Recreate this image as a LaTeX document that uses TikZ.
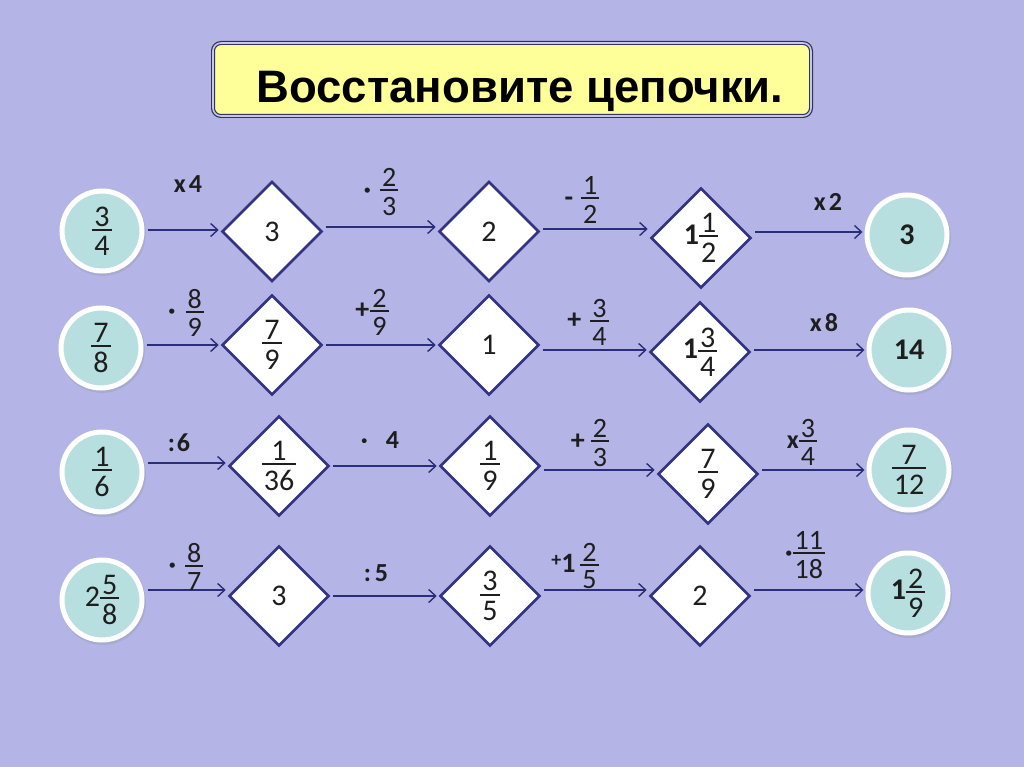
\documentclass[tikz,border=0pt]{standalone}
\usepackage{fontspec}
\setmainfont{Carlito}
\newfontfamily\titlefont{Liberation Sans}
\usetikzlibrary{arrows.meta,shapes.geometric,shadows}
\definecolor{bgc}{HTML}{B4B5E6}
\definecolor{circfill}{HTML}{B8DFDF}
\definecolor{diaborder}{HTML}{333383}
\definecolor{arrc}{HTML}{2A2E7A}
\definecolor{titlefill}{HTML}{FFFF99}
\definecolor{titleborder}{HTML}{2E3166}
\definecolor{titlemid}{HTML}{C8C9E0}
\definecolor{txt}{HTML}{1E1E1E}
\newcommand\fr[2]{\ensuremath{\vcenter{\offinterlineskip\halign{\hfil\kern2pt##\kern2pt\hfil\cr #1\cr\noalign{\kern2.5pt\hrule height 2pt\kern5.5pt}#2\cr}}}}
\newcommand\nfont{\fontsize{30}{33}\selectfont}
\newcommand\lfont{\fontsize{28}{32}\selectfont}
\newcommand\opfont{\fontsize{26}{30}\selectfont\bfseries}
\newcommand\conn[3]{\draw[arr] ([yshift=#3pt]#1.east) -- ([yshift=#3pt]#1.east -| #2.west);}
\begin{document}
\begin{tikzpicture}[x=1pt,y=-1pt,
  titlebox/.style={draw=titleborder, line width=1.2pt, double=titlemid, double distance=1.6pt,
    fill=titlefill, rounded corners=8pt, minimum width=598pt, minimum height=73pt, inner sep=0pt},
  titletext/.style={font=\titlefont\bfseries\fontsize{45.5}{50}\selectfont, text=black, inner sep=0pt},
  circ/.style={circle, fill=circfill, draw=white, line width=5pt, minimum size=80pt, inner sep=0pt,
    font=\nfont, text=txt, drop shadow={shadow xshift=1pt, shadow yshift=-2pt, shadow scale=1.07, opacity=0.2}},
  dia/.style={diamond, aspect=1, fill=white, draw=diaborder, line width=2.6pt, minimum width=100pt,
    minimum height=100pt, inner sep=0pt, font=\nfont, text=txt},
  lab/.style={font=\lfont, text=txt, inner sep=0pt},
  oplab/.style={font=\opfont, text=txt, inner sep=0pt},
  arr/.style={draw=arrc, line width=1.4pt, -{Straight Barb[length=7pt,width=13pt,line width=1.4pt]},
    shorten <=3pt, shorten >=2pt}]
\useasboundingbox (0,0) rectangle (1024,767);
\fill[bgc] (0,0) rectangle (1024,767);
\node[titlebox] (tb) at (512,79.5) {};
\node[titletext, anchor=base] (tt) at (520,103) {Восстановите цепочки.};
% row 1
\node[circ] (c11) at (102,231) {\fr{3}{4}};
\node[dia] (d11) at (272,231.5) {3};
\node[dia] (d12) at (489,231.5) {2};
\node[dia] (d13) at (701,238) {\textbf{1}\fr{1}{2}};
\node[circ] (c12) at (907,235) {\textbf{3}};
% row 2
\node[circ] (c21) at (101,348) {\fr{7}{8}};
\node[dia] (d21) at (272,345) {\fr{7}{9}};
\node[dia] (d22) at (489,345) {1};
\node[dia] (d23) at (700,352) {\textbf{1}\fr{3}{4}};
\node[circ] (c22) at (909,350) {\textbf{14}};
% row 3
\node[circ] (c31) at (102,472) {\fr{1}{6}};
\node[dia] (d31) at (279,466) {\fr{1}{36}};
\node[dia] (d32) at (490,466) {\fr{1}{9}};
\node[dia] (d33) at (708,474) {\fr{7}{9}};
\node[circ] (c32) at (909,470) {\fr{7}{12}};
% row 4
\node[circ] (c41) at (102,600) {2\fr{5}{8}};
\node[dia] (d41) at (279,596) {3};
\node[dia] (d42) at (490,596) {\fr{3}{5}};
\node[dia] (d43) at (700,596) {2};
\node[circ] (c42) at (908,593) {\textbf{1}\fr{2}{9}};
% connectors
\conn{c11}{d11}{1}
\conn{d11}{d12}{4.5}
\conn{d12}{d13}{2.5}
\conn{d13}{c12}{6}
\conn{c21}{d21}{3}
\conn{d21}{d22}{0}
\conn{d22}{d23}{-5}
\conn{d23}{c22}{2}
\conn{c31}{d31}{9}
\conn{d31}{d32}{0}
\conn{d32}{d33}{-4}
\conn{d33}{c32}{4}
\conn{c41}{d41}{10}
\conn{d41}{d42}{0}
\conn{d42}{d43}{6}
\conn{d43}{c42}{6}
% labels
\node[oplab] (l11) at (188,184) {x\hspace{3pt}4};
\node[lab] (l12) at (381,192) {\textbf{·}\hspace{9pt}\fr{2}{3}};
\node[lab] (l13) at (582,200) {\textbf{-}\hspace{8pt}\fr{1}{2}};
\node[oplab] (l14) at (828,202) {x\hspace{3pt}2};
\node[lab] (l21) at (186,313) {\textbf{·}\hspace{10pt}\fr{8}{9}};
\node[lab] (l22) at (372,312) {\textbf{+}\hspace{1pt}\fr{2}{9}};
\node[lab] (l23) at (588,322) {\textbf{+}\hspace{9pt}\fr{3}{4}};
\node[oplab] (l24) at (824,323) {x\hspace{3pt}8};
\node[oplab] (l31) at (179,443) {:\hspace{2pt}6};
\node[oplab] (l32) at (380,440) {·\hspace{18pt}4};
\node[lab] (l33) at (590,443) {\textbf{+}\hspace{6pt}\fr{2}{3}};
\node[lab] (l34) at (802,442) {{\opfont x}\fr{3}{4}};
\node[lab] (l41) at (186,567) {\textbf{·}\hspace{9pt}\fr{8}{7}};
\node[oplab] (l42) at (376,573) {:\hspace{4pt}5};
\node[lab] (l43) at (575,566) {\raisebox{6pt}{\fontsize{20}{22}\selectfont\textbf{+}}\textbf{1}\hspace{5pt}\fr{2}{5}};
\node[lab] (l44) at (805,555) {\textbf{·}\fr{11}{18}};
\end{tikzpicture}
\end{document}
